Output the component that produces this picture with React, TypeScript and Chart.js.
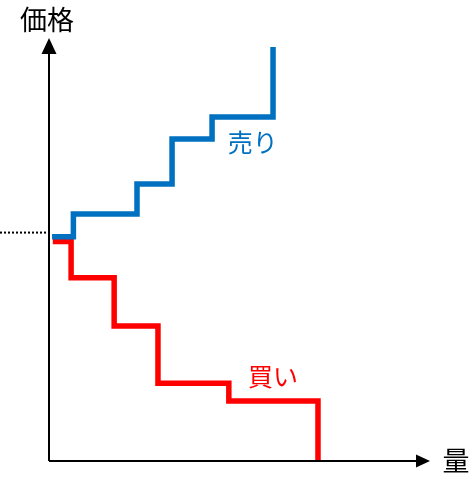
import React, { useEffect, useRef } from "react";
import { Chart, registerables } from "chart.js";

Chart.register(...registerables);

// Data (quantity 0..100, price 0..100)
const sellQty = [0.8, 6.4, 23.1, 32.3, 42.8, 58.8];
const sellPrice = [53, 58.4, 65.5, 76.1, 81.3, 97.9];
const buyQty = [1.0, 5.8, 17.1, 28.6, 47.2, 70.6];
const buyPrice = [51.9, 43.3, 31.9, 18.4, 14.2, 0];
const equilibriumPrice = [54];
const seriesNames = ["売り", "買い"];
const seriesColors = ["#0070C0", "#FF0000"];
const labelPosQty = [53.5, 58.8];
const labelPosPrice = [75.2, 19.9];
const axisTitles = ["価格", "量"];

const FONT = '"Noto Sans CJK JP", "Noto Sans", sans-serif';

const overlayPlugin = {
  id: "overlay",
  afterDatasetsDraw(chart: any) {
    const { ctx, scales } = chart;
    const xs = scales.x;
    const ys = scales.y;
    const x0 = xs.getPixelForValue(0);
    const y0 = ys.getPixelForValue(0);
    const xEnd = xs.getPixelForValue(xs.max);
    const yEnd = ys.getPixelForValue(ys.max);
    ctx.save();
    // dotted equilibrium line
    const ye = ys.getPixelForValue(equilibriumPrice[0]);
    ctx.strokeStyle = "#000";
    ctx.lineWidth = 2;
    ctx.setLineDash([2, 2]);
    ctx.beginPath();
    ctx.moveTo(0, ye);
    ctx.lineTo(x0 - 1, ye);
    ctx.stroke();
    ctx.setLineDash([]);
    // axes
    ctx.lineWidth = 2;
    ctx.beginPath();
    ctx.moveTo(x0, y0);
    ctx.lineTo(x0, yEnd + 12);
    ctx.moveTo(x0, y0);
    ctx.lineTo(xEnd - 10, y0);
    ctx.stroke();
    ctx.fillStyle = "#000";
    ctx.beginPath();
    ctx.moveTo(x0, yEnd);
    ctx.lineTo(x0 - 7.5, yEnd + 16);
    ctx.lineTo(x0 + 7.5, yEnd + 16);
    ctx.closePath();
    ctx.fill();
    ctx.beginPath();
    ctx.moveTo(xEnd, y0);
    ctx.lineTo(xEnd - 14, y0 - 6.5);
    ctx.lineTo(xEnd - 14, y0 + 6.5);
    ctx.closePath();
    ctx.fill();
    // axis titles
    ctx.font = `27px ${FONT}`;
    ctx.textAlign = "center";
    ctx.textBaseline = "middle";
    ctx.fillText(axisTitles[0], x0 - 2, yEnd - 18);
    ctx.fillText(axisTitles[1], xEnd + 26, y0);
    // series labels
    ctx.font = `25px ${FONT}`;
    for (let i = 0; i < seriesNames.length; i++) {
      ctx.fillStyle = seriesColors[i];
      ctx.fillText(
        seriesNames[i],
        xs.getPixelForValue(labelPosQty[i]),
        ys.getPixelForValue(labelPosPrice[i])
      );
    }
    ctx.restore();
  },
};

export default function App() {
  const ref = useRef<HTMLCanvasElement | null>(null);
  useEffect(() => {
    if (!ref.current) return;
    const chart = new Chart(ref.current, {
      type: "scatter",
      data: {
        datasets: [
          {
            label: seriesNames[0],
            data: sellQty.map((q, i) => ({ x: q, y: sellPrice[i] })),
            showLine: true,
            stepped: "before",
            borderColor: seriesColors[0],
            borderWidth: 5.5,
            pointRadius: 0,
            borderJoinStyle: "miter",
            borderCapStyle: "butt",
            clip: false,
            order: 0,
          } as any,
          {
            label: seriesNames[1],
            data: buyQty.map((q, i) => ({ x: q, y: buyPrice[i] })),
            showLine: true,
            stepped: "before",
            borderColor: seriesColors[1],
            borderWidth: 5.5,
            pointRadius: 0,
            borderJoinStyle: "miter",
            borderCapStyle: "butt",
            clip: false,
            order: 1,
          } as any,
        ],
      },
      options: {
        animation: false,
        responsive: false,
        devicePixelRatio: 1,
        layout: { padding: { left: 49, right: 44, top: 38, bottom: 18 } },
        plugins: { legend: { display: false }, tooltip: { enabled: false } },
        scales: {
          x: { type: "linear", min: 0, max: 100, display: false },
          y: { type: "linear", min: 0, max: 100, display: false },
        },
      },
      plugins: [overlayPlugin],
    });
    return () => chart.destroy();
  }, []);
  return (
    <div style={{ position: "absolute", left: 0, top: 0, width: 474, height: 479, background: "#fff" }}>
      <canvas ref={ref} width={474} height={479} />
    </div>
  );
}
